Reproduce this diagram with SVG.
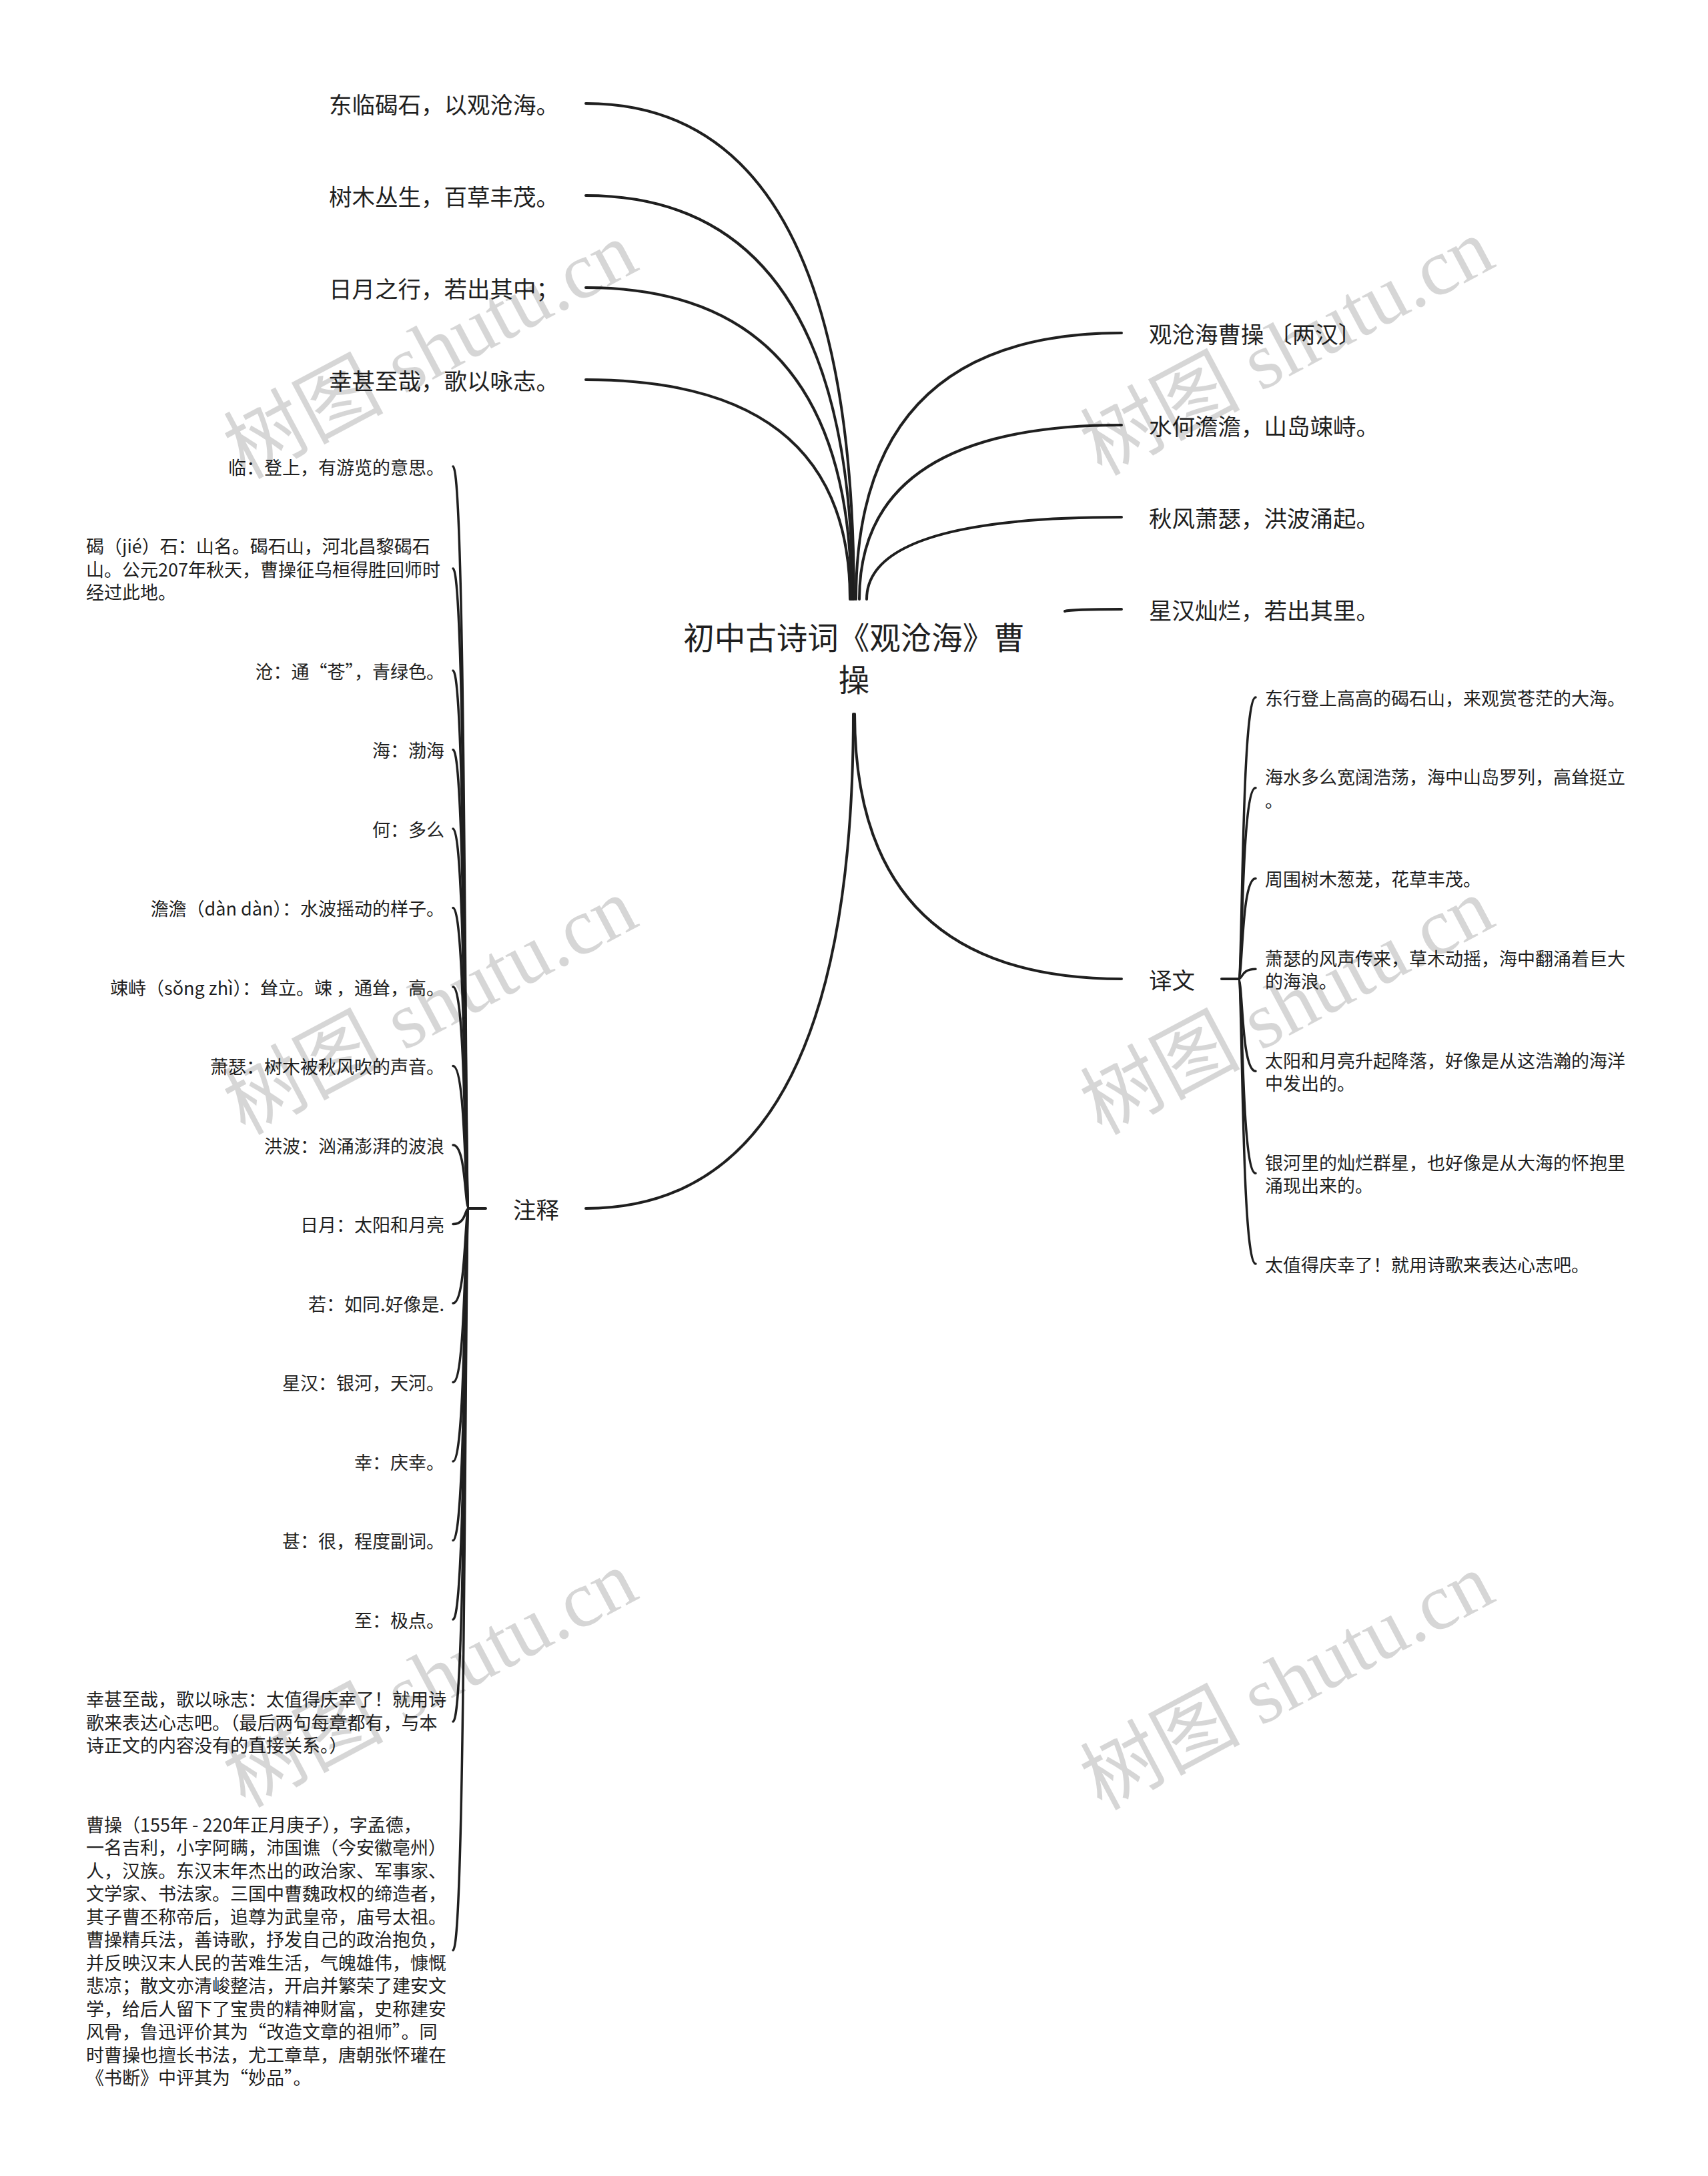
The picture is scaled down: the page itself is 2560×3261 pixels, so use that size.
<svg xmlns="http://www.w3.org/2000/svg" width="2560" height="3261" viewBox="0 0 2560 3261">
<style>
.t{font-family:"Noto Sans CJK SC","Noto Sans",sans-serif;fill:#1f1f1f;dominant-baseline:central}
.root{font-size:46.5px;text-anchor:middle}
.leaf{font-size:34.5px}
.note{font-size:27px}
.end{text-anchor:end}
.ln{fill:none;stroke:#1f1f1f;stroke-width:4;stroke-linecap:round}
.br{fill:none;stroke:#1f1f1f;stroke-width:3.5;stroke-linecap:round}
.wm{font-family:"Liberation Serif","Noto Sans CJK SC",serif;font-size:120px;fill:#000;fill-opacity:0.16;text-anchor:middle;dominant-baseline:central}
</style>
<rect width="2560" height="3261" fill="#fff"/>
<g id="connectors">
<path class="ln" d="M878,155 Q1280,155 1280,898"/>
<path class="ln" d="M878,293 Q1278,293 1278,898"/>
<path class="ln" d="M878,431 Q1276,431 1276,898"/>
<path class="ln" d="M878,569 Q1274,569 1274,898"/>
<path class="ln" d="M1283,898 Q1283,499 1681,499"/>
<path class="ln" d="M1288,898 Q1288,637 1681,637"/>
<path class="ln" d="M1299,898 Q1299,775 1681,775"/>
<path class="ln" d="M1596,916 Q1605,913 1681,913"/>
<path class="ln" d="M1281,1070 Q1281,1467 1681,1467"/>
<path class="ln" d="M1279,1070 Q1279,1811 878,1811"/>
<path class="ln" d="M1831,1467 L1856,1467"/>
<path class="ln" d="M703,1811 L728,1811"/>
<path class="br" d="M1856,1467 C1863,1467 1860,1045 1882,1045"/>
<path class="br" d="M1856,1467 C1863,1467 1860,1180.75 1882,1180.75"/>
<path class="br" d="M1856,1467 C1863,1467 1860,1316.5 1882,1316.5"/>
<path class="br" d="M1856,1467 C1863,1467 1860,1452.25 1882,1452.25"/>
<path class="br" d="M1856,1467 C1863,1467 1860,1605.25 1882,1605.25"/>
<path class="br" d="M1856,1467 C1863,1467 1860,1758.25 1882,1758.25"/>
<path class="br" d="M1856,1467 C1863,1467 1860,1894 1882,1894"/>
<path class="br" d="M703,1811 C696,1811 699,699 679,699"/>
<path class="br" d="M703,1811 C696,1811 699,852 679,852"/>
<path class="br" d="M703,1811 C696,1811 699,1005 679,1005"/>
<path class="br" d="M703,1811 C696,1811 699,1123.5 679,1123.5"/>
<path class="br" d="M703,1811 C696,1811 699,1242 679,1242"/>
<path class="br" d="M703,1811 C696,1811 699,1360.5 679,1360.5"/>
<path class="br" d="M703,1811 C696,1811 699,1479 679,1479"/>
<path class="br" d="M703,1811 C696,1811 699,1597.5 679,1597.5"/>
<path class="br" d="M703,1811 C696,1811 699,1716 679,1716"/>
<path class="br" d="M703,1811 C696,1811 699,1834.5 679,1834.5"/>
<path class="br" d="M703,1811 C696,1811 699,1953 679,1953"/>
<path class="br" d="M703,1811 C696,1811 699,2071.5 679,2071.5"/>
<path class="br" d="M703,1811 C696,1811 699,2190 679,2190"/>
<path class="br" d="M703,1811 C696,1811 699,2308.5 679,2308.5"/>
<path class="br" d="M703,1811 C696,1811 699,2427 679,2427"/>
<path class="br" d="M703,1811 C696,1811 699,2580 679,2580"/>
<path class="br" d="M703,1811 C696,1811 699,2922.75 679,2922.75"/>
</g>
<g id="root"><text class="t root" x="1280" y="952">初中古诗词《观沧海》曹</text><text class="t root" x="1280" y="1015">操</text></g>
<g id="l1"><text class="t leaf end" x="838" y="155">东临碣石，以观沧海。</text></g>
<g id="l2"><text class="t leaf end" x="838" y="293">树木丛生，百草丰茂。</text></g>
<g id="l3"><text class="t leaf end" x="838" y="431">日月之行，若出其中；</text></g>
<g id="l4"><text class="t leaf end" x="838" y="569">幸甚至哉，歌以咏志。</text></g>
<g id="r1"><text class="t leaf" x="1722" y="499">观沧海曹操 〔两汉〕</text></g>
<g id="r2"><text class="t leaf" x="1722" y="637">水何澹澹，山岛竦峙。</text></g>
<g id="r3"><text class="t leaf" x="1722" y="775">秋风萧瑟，洪波涌起。</text></g>
<g id="r4"><text class="t leaf" x="1722" y="913">星汉灿烂，若出其里。</text></g>
<g id="yiwen"><text class="t leaf" x="1722" y="1467">译文</text></g>
<g id="zhushi"><text class="t leaf" x="769" y="1811">注释</text></g>
<g id="y1"><text class="t note" x="1896" y="1045">东行登上高高的碣石山，来观赏苍茫的大海。</text></g>
<g id="y2"><text class="t note" x="1896" y="1163.5">海水多么宽阔浩荡，海中山岛罗列，高耸挺立</text><text class="t note" x="1896" y="1198">。</text></g>
<g id="y3"><text class="t note" x="1896" y="1316.5">周围树木葱茏，花草丰茂。</text></g>
<g id="y4"><text class="t note" x="1896" y="1435">萧瑟的风声传来，草木动摇，海中翻涌着巨大</text><text class="t note" x="1896" y="1469.5">的海浪。</text></g>
<g id="y5"><text class="t note" x="1896" y="1588">太阳和月亮升起降落，好像是从这浩瀚的海洋</text><text class="t note" x="1896" y="1622.5">中发出的。</text></g>
<g id="y6"><text class="t note" x="1896" y="1741">银河里的灿烂群星，也好像是从大海的怀抱里</text><text class="t note" x="1896" y="1775.5">涌现出来的。</text></g>
<g id="y7"><text class="t note" x="1896" y="1894">太值得庆幸了！就用诗歌来表达心志吧。</text></g>
<g id="z1"><text class="t note end" x="666" y="699">临：登上，有游览的意思。</text></g>
<g id="z2"><text class="t note" x="129" y="817.5">碣（jié）石：山名。碣石山，河北昌黎碣石</text><text class="t note" x="129" y="852">山。公元207年秋天，曹操征乌桓得胜回师时</text><text class="t note" x="129" y="886.5">经过此地。</text></g>
<g id="z3"><text class="t note end" x="666" y="1005">沧：通“苍”，青绿色。</text></g>
<g id="z4"><text class="t note end" x="666" y="1123.5">海：渤海</text></g>
<g id="z5"><text class="t note end" x="666" y="1242">何：多么</text></g>
<g id="z6"><text class="t note end" x="666" y="1360.5">澹澹（dàn dàn）：水波摇动的样子。</text></g>
<g id="z7"><text class="t note end" x="666" y="1479">竦峙（sǒng zhì）：耸立。竦 ，通耸，高。</text></g>
<g id="z8"><text class="t note end" x="666" y="1597.5">萧瑟：树木被秋风吹的声音。</text></g>
<g id="z9"><text class="t note end" x="666" y="1716">洪波：汹涌澎湃的波浪</text></g>
<g id="z10"><text class="t note end" x="666" y="1834.5">日月：太阳和月亮</text></g>
<g id="z11"><text class="t note end" x="666" y="1953">若：如同.好像是.</text></g>
<g id="z12"><text class="t note end" x="666" y="2071.5">星汉：银河，天河。</text></g>
<g id="z13"><text class="t note end" x="666" y="2190">幸：庆幸。</text></g>
<g id="z14"><text class="t note end" x="666" y="2308.5">甚：很，程度副词。</text></g>
<g id="z15"><text class="t note end" x="666" y="2427">至：极点。</text></g>
<g id="z16"><text class="t note" x="129" y="2545.5">幸甚至哉，歌以咏志：太值得庆幸了！就用诗</text><text class="t note" x="129" y="2580">歌来表达心志吧。（最后两句每章都有，与本</text><text class="t note" x="129" y="2614.5">诗正文的内容没有的直接关系。）</text></g>
<g id="z17">
<text class="t note" x="129" y="2733">曹操（155年 - 220年正月庚子），字孟德，</text>
<text class="t note" x="129" y="2767.5">一名吉利，小字阿瞒，沛国谯（今安徽亳州）</text>
<text class="t note" x="129" y="2802">人，汉族。东汉末年杰出的政治家、军事家、</text>
<text class="t note" x="129" y="2836.5">文学家、书法家。三国中曹魏政权的缔造者，</text>
<text class="t note" x="129" y="2871">其子曹丕称帝后，追尊为武皇帝，庙号太祖。</text>
<text class="t note" x="129" y="2905.5">曹操精兵法，善诗歌，抒发自己的政治抱负，</text>
<text class="t note" x="129" y="2940">并反映汉末人民的苦难生活，气魄雄伟，慷慨</text>
<text class="t note" x="129" y="2974.5">悲凉；散文亦清峻整洁，开启并繁荣了建安文</text>
<text class="t note" x="129" y="3009">学，给后人留下了宝贵的精神财富，史称建安</text>
<text class="t note" x="129" y="3043.5">风骨，鲁迅评价其为“改造文章的祖师”。同</text>
<text class="t note" x="129" y="3078">时曹操也擅长书法，尤工章草，唐朝张怀瓘在</text>
<text class="t note" x="129" y="3112.5">《书断》中评其为“妙品”。</text>
</g>
<g id="watermarks">
<text class="wm" x="645" y="525" transform="rotate(-28 645 525)">树图 shutu.cn</text>
<text class="wm" x="1929" y="520" transform="rotate(-28 1929 520)">树图 shutu.cn</text>
<text class="wm" x="645" y="1508" transform="rotate(-28 645 1508)">树图 shutu.cn</text>
<text class="wm" x="1929" y="1508" transform="rotate(-28 1929 1508)">树图 shutu.cn</text>
<text class="wm" x="645" y="2516" transform="rotate(-28 645 2516)">树图 shutu.cn</text>
<text class="wm" x="1929" y="2520" transform="rotate(-28 1929 2520)">树图 shutu.cn</text>
</g>
</svg>
